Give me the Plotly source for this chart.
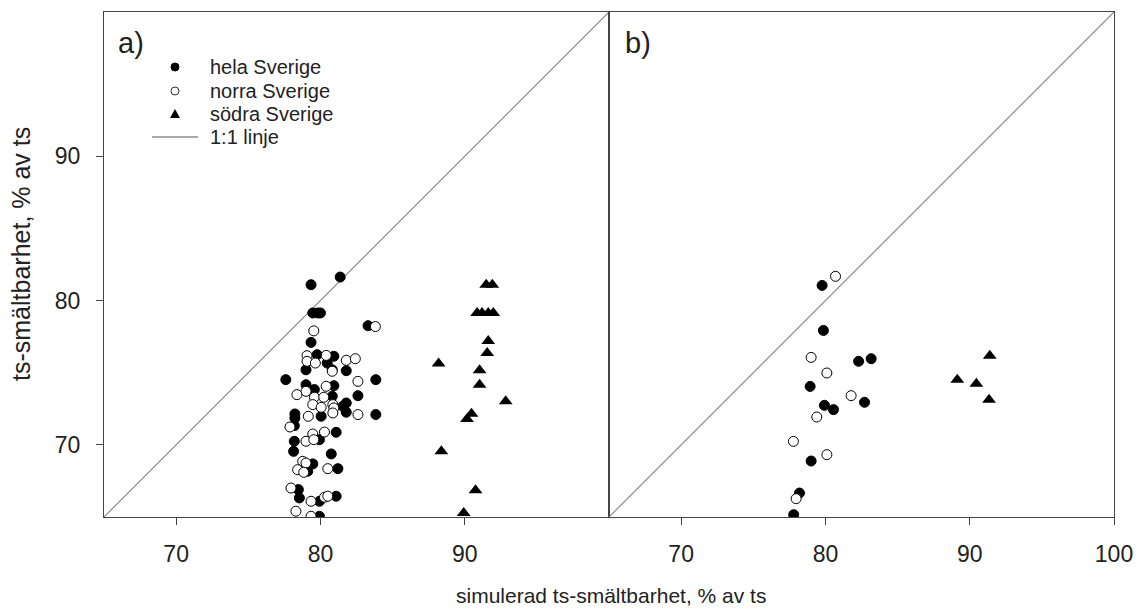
import plotly.graph_objects as go

# Panel a) data
a_hela_x = [79.35, 81.37, 79.47, 79.82, 80.0, 83.3, 79.35, 79.77, 80.93, 80.47, 79.0, 80.82, 81.79,
            77.6, 83.84, 79.0, 80.93, 79.58, 80.82, 82.6, 81.79, 81.56, 78.23, 78.23, 80.05, 81.79,
            83.84, 78.19, 81.09, 79.93, 78.19, 78.14, 80.75, 79.47, 81.21, 79.12, 78.47, 78.54,
            79.93, 81.09, 79.93]
a_hela_y = [81.1, 81.63, 79.14, 79.14, 79.14, 78.26, 77.1, 76.25, 76.14, 75.67, 75.2, 75.2, 75.14,
            74.52, 74.52, 74.17, 74.1, 73.83, 73.37, 73.41, 72.9, 72.67, 72.14, 71.86, 71.98, 72.26,
            72.1, 71.33, 70.87, 70.36, 70.25, 69.55, 69.37, 68.68, 68.35, 68.17, 66.9, 66.32,
            66.09, 66.44, 65.05]
a_norra_x = [83.81, 79.54, 79.07, 80.4, 79.07, 79.65, 81.79, 82.42, 80.82, 82.6, 80.4, 79.0, 78.37,
             79.58, 80.23, 79.47, 80.86, 80.05, 80.93, 79.16, 80.86, 82.6, 77.89, 80.28, 79.47,
             79.0, 79.54, 78.77, 79.0, 78.42, 78.84, 80.51, 77.96, 79.35, 80.28, 80.51, 78.3, 79.35]
a_norra_y = [78.2, 77.9, 76.18, 76.2, 75.79, 75.67, 75.86, 75.97, 75.1, 74.4, 74.06, 73.71, 73.48,
             73.3, 73.3, 72.79, 72.79, 72.6, 72.56, 71.98, 72.21, 72.1, 71.24, 70.89, 70.75,
             70.25, 70.36, 68.86, 68.74, 68.28, 68.1, 68.35, 67.01, 66.09, 66.37, 66.44, 65.4, 65.05]
a_sodra_x = [91.49, 91.91, 90.86, 91.2, 91.63, 91.98, 91.63, 91.56, 88.19, 91.03, 91.03, 92.84,
             90.47, 90.16, 88.38, 90.75, 89.93]
a_sodra_y = [81.1, 81.1, 79.14, 79.14, 79.14, 79.14, 77.2, 76.37, 75.63, 75.17, 74.17, 73.02,
             72.16, 71.79, 69.55, 66.85, 65.28]

# Panel b) data
b_hela_x = [79.77, 79.86, 82.3, 83.17, 78.94, 79.93, 80.56, 82.71, 79.01, 78.2, 77.8]
b_hela_y = [81.05, 77.93, 75.79, 75.97, 74.05, 72.74, 72.44, 72.95, 68.88, 66.66, 65.16]
b_norra_x = [80.7, 79.01, 80.1, 81.78, 79.4, 77.78, 80.1, 77.97]
b_norra_y = [81.68, 76.06, 74.98, 73.41, 71.93, 70.24, 69.32, 66.27]
b_sodra_x = [91.39, 89.14, 90.46, 91.34]
b_sodra_y = [76.18, 74.52, 74.24, 73.13]

one_to_one = [65, 100]
axis_range = [65, 100]
x_ticks_a = [70, 80, 90]
x_ticks_b = [70, 80, 90, 100]
y_ticks = [70, 80, 90]
legend_labels = ["hela Sverige", "norra Sverige", "södra Sverige", "1:1 linje"]

FONT = "Liberation Sans, Arial, sans-serif"
TXT = "#222222"

# figure is placed 8 px in from the page corner (body margin)
W, H = 1134, 602
ML, MR, MT, MB = 96, 28, 4, 93
PW, PH = W - ML - MR, H - MT - MB

fig = go.Figure()

def add_panel(xa, ya, hx, hy, nx, ny, sx, sy):
    fig.add_trace(go.Scatter(x=one_to_one, y=one_to_one, mode="lines", xaxis=xa, yaxis=ya,
                             line=dict(color="#808080", width=1.1), name=legend_labels[3],
                             showlegend=False, hoverinfo="skip"))
    fig.add_trace(go.Scatter(x=hx, y=hy, mode="markers", xaxis=xa, yaxis=ya,
                             marker=dict(symbol="circle", size=10, color="black",
                                         line=dict(color="black", width=1)),
                             name=legend_labels[0], showlegend=False))
    fig.add_trace(go.Scatter(x=nx, y=ny, mode="markers", xaxis=xa, yaxis=ya,
                             marker=dict(symbol="circle", size=10, color="white",
                                         line=dict(color="black", width=1)),
                             name=legend_labels[1], showlegend=False))
    fig.add_trace(go.Scatter(x=sx, y=sy, mode="markers", xaxis=xa, yaxis=ya,
                             marker=dict(symbol="triangle-up", size=12, color="black",
                                         line=dict(color="black", width=0)),
                             name=legend_labels[2], showlegend=False))

add_panel("x", "y", a_hela_x, a_hela_y, a_norra_x, a_norra_y, a_sodra_x, a_sodra_y)
add_panel("x2", "y2", b_hela_x, b_hela_y, b_norra_x, b_norra_y, b_sodra_x, b_sodra_y)

axis_common = dict(range=axis_range, showgrid=False, zeroline=False, showline=True, mirror=True,
                   linecolor="#444444", linewidth=1.2, ticklen=7,
                   tickcolor="#444444", tickfont=dict(family=FONT, size=23, color=TXT))

fig.update_layout(
    width=W, height=H,
    margin=dict(l=ML, r=MR, t=MT, b=MB),
    plot_bgcolor="white", paper_bgcolor="white",
    font=dict(family=FONT, color=TXT),
    xaxis=dict(domain=[0, 0.5], tickvals=x_ticks_a, anchor="y", ticks="outside",
               ticklabelstandoff=9, **axis_common),
    xaxis2=dict(domain=[0.5, 1], tickvals=x_ticks_b, anchor="y2", ticks="outside",
                ticklabelstandoff=9, **axis_common),
    yaxis=dict(domain=[0, 1], tickvals=y_ticks, anchor="x", ticks="outside",
               ticklabelstandoff=11, **axis_common),
    yaxis2=dict(domain=[0, 1], tickvals=y_ticks, anchor="x2", showticklabels=False, ticks="",
                **axis_common),
    showlegend=False,
)

# manual legend inside panel a (positions in plot-area pixels)
def px_x(p):
    return p / PW

def px_y(p):
    return p / PH

leg_cx = px_x(71)
leg_rows = [px_y(450), px_y(426), px_y(403), px_y(380)]
leg_tx = px_x(104)
r = 4
fig.add_shape(type="circle", xref="paper", yref="paper",
              x0=leg_cx - px_x(r), x1=leg_cx + px_x(r), y0=leg_rows[0] - px_y(r), y1=leg_rows[0] + px_y(r),
              fillcolor="black", line=dict(color="black", width=1))
fig.add_shape(type="circle", xref="paper", yref="paper",
              x0=leg_cx - px_x(r), x1=leg_cx + px_x(r), y0=leg_rows[1] - px_y(r), y1=leg_rows[1] + px_y(r),
              fillcolor="white", line=dict(color="#333333", width=1))
tri = "M {:.5f},{:.5f} L {:.5f},{:.5f} L {:.5f},{:.5f} Z".format(
    leg_cx - px_x(5), leg_rows[2] - px_y(4), leg_cx + px_x(5), leg_rows[2] - px_y(4),
    leg_cx, leg_rows[2] + px_y(5))
fig.add_shape(type="path", xref="paper", yref="paper", path=tri,
              fillcolor="black", line=dict(color="black", width=0))
fig.add_shape(type="line", xref="paper", yref="paper",
              x0=px_x(48), x1=px_x(94), y0=leg_rows[3], y1=leg_rows[3],
              line=dict(color="#555555", width=1.1))
for lab, yy in zip(legend_labels, leg_rows):
    fig.add_annotation(text=lab, xref="paper", yref="paper", x=leg_tx, y=yy, xanchor="left",
                       yanchor="middle", showarrow=False, font=dict(family=FONT, size=20, color=TXT))

fig.add_annotation(text="a)", xref="paper", yref="paper", x=px_x(12), y=px_y(474), xanchor="left",
                   yanchor="middle", showarrow=False, font=dict(family=FONT, size=29, color=TXT))
fig.add_annotation(text="b)", xref="paper", yref="paper", x=0.5 + px_x(14), y=px_y(474), xanchor="left",
                   yanchor="middle", showarrow=False, font=dict(family=FONT, size=29, color=TXT))
fig.add_annotation(text="simulerad ts-smältbarhet, % av ts", xref="paper", yref="paper",
                   x=px_x(507), y=-px_y(78), xanchor="center", yanchor="middle", showarrow=False,
                   font=dict(family=FONT, size=21, color=TXT))
fig.add_annotation(text="ts-smältbarhet, % av ts", xref="paper", yref="paper",
                   x=-px_x(83), y=px_y(263), xanchor="center", yanchor="middle", textangle=-90,
                   showarrow=False, font=dict(family=FONT, size=25, color=TXT))

fig.write_html("out.html")
